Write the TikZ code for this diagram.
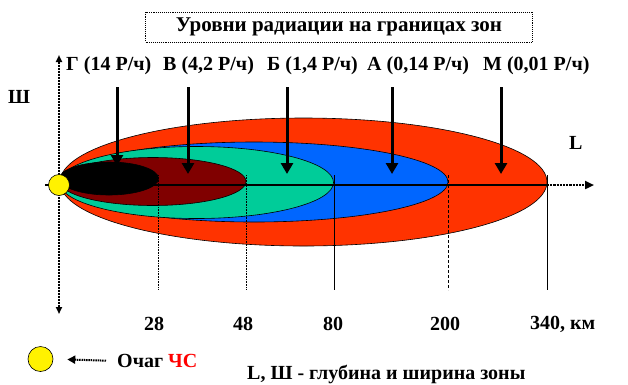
\documentclass[tikz,border=0pt]{standalone}
\usepackage{fontspec}
\setmainfont{Liberation Serif}
\usepackage{tikz}
\usetikzlibrary{arrows.meta}
\usetikzlibrary{positioning}
\definecolor{zoneM}{RGB}{255,51,0}
\definecolor{zoneA}{RGB}{0,102,255}
\definecolor{zoneB}{RGB}{0,204,153}
\definecolor{zoneV}{RGB}{128,0,0}
\definecolor{chsred}{RGB}{255,0,0}
\tikzset{
zone/.style={draw=black, line width=0.6pt},
zonearrow/.style={line width=3pt, shorten <=13pt, -{Triangle[length=11pt,width=12pt]}},
dropline/.style={line width=0.6pt},
axisline/.style={line width=2.2pt},
lbl/.style={font=\bfseries\fontsize{20}{22}\selectfont, inner sep=0pt, anchor=base west},
kmlbl/.style={font=\bfseries\fontsize{20}{22}\selectfont, inner sep=0pt},
}

\begin{document}
\begin{tikzpicture}[x=1pt,y=-1pt]
    \useasboundingbox (0,0) rectangle (628,384);
    % title
    \node[draw, densely dotted, line width=0.9pt, minimum width=387pt, minimum height=30pt,
        font=\bfseries\fontsize{21}{23}\selectfont] (title) at (339,27) {Уровни радиации на границах зон};
    % zones
    \filldraw[zone, fill=zoneM] (303.5,182) ellipse [x radius=243.5pt, y radius=64pt];
    \filldraw[zone, fill=zoneA] (254,182) ellipse [x radius=194pt, y radius=40pt];
    \filldraw[zone, fill=zoneB] (196.5,182.5) ellipse [x radius=137pt, y radius=36pt];
    \filldraw[zone, fill=zoneV] (153,181.5) ellipse [x radius=93pt, y radius=24pt];
    \filldraw[zone, fill=black] (109,178.5) ellipse [x radius=49.5pt, y radius=16.5pt];
    % zone ends
    \coordinate (eG) at (158,185);
    \coordinate (eV) at (246,185);
    \coordinate (eB) at (334,185);
    \coordinate (eA) at (448,185);
    \coordinate (eM) at (547,185);
    \foreach \e/\s in {eG/densely dotted, eV/densely dotted, eB/solid, eA/densely dashed, eM/solid}
        \draw[dropline, \s] ([yshift=10pt]\e) -- ([yshift=-105pt]\e);
    % axes
    \coordinate (origin) at (45,185);
    \coordinate (Lend) at (594,185);
    \draw[axisline] (origin) -- (eM);
    \draw[axisline, densely dotted, -{Triangle[length=9pt,width=8pt]}] (eM) -- (Lend);
    \coordinate (Wtop) at (59,55);
    \coordinate (Wbot) at (59,314);
    \draw[line width=2pt, dash pattern=on 2pt off 1pt, {Triangle[length=7pt,width=6pt]}-{Triangle[length=7pt,width=6pt]}] (Wtop) -- (Wbot);
    \node[circle, draw, fill=yellow, minimum size=21pt, inner sep=0pt, line width=0.6pt] (sun) at (59,185) {};
    \node[lbl] (Wlbl) at (8,103) {Ш};
    \node[lbl] (Llbl) at (569,149) {L};
    % zone labels
    \node[lbl] (lblG) at (66,70) {Г (14 Р/ч)};
    \node[lbl] (lblV) at (163,70) {В (4,2 Р/ч)};
    \node[lbl] (lblB) at (267,70) {Б (1,4 Р/ч)};
    \node[lbl] (lblA) at (367,70) {А (0,14 Р/ч)};
    \node[lbl] (lblM) at (483,70) {М (0,01 Р/ч)};
    \coordinate (tipG) at (117,166);
    \coordinate (tipV) at (188,174);
    \coordinate (tipB) at (287,174);
    \coordinate (tipA) at (392,174);
    \coordinate (tipM) at (501,174);
    \draw[zonearrow] (lblG.south -| tipG) -- (tipG);
    \draw[zonearrow] (lblV.south -| tipV) -- (tipV);
    \draw[zonearrow] (lblB.south -| tipB) -- (tipB);
    \draw[zonearrow] (lblA.south -| tipA) -- (tipA);
    \draw[zonearrow] (lblM.south -| tipM) -- (tipM);
    % distances
    \node[kmlbl] (k28) at (154,324) {28};
    \node[kmlbl] (k48) at (243,324) {48};
    \node[kmlbl] (k80) at (333,324) {80};
    \node[kmlbl] (k200) at (445,324) {200};
    \node[kmlbl, anchor=west] (k340) at (530,324) {340, км};
    % legend
    \node[circle, draw, fill=yellow, minimum size=25pt, inner sep=0pt, line width=0.6pt] (legsun) at (40.5,359) {};
    \node[kmlbl, anchor=west] (ochag) at (117,361) {Очаг \textcolor{chsred}{ЧС}};
    \draw[line width=2pt, dash pattern=on 1.5pt off 0.8pt, shorten <=11pt, shorten >=14pt, -{Triangle[length=8pt,width=8pt]}] (ochag.west) -- (legsun.east);
    \node[kmlbl, anchor=west] (legend) at (247,374) {L, Ш - глубина и ширина зоны};
\end{tikzpicture}
\end{document}
